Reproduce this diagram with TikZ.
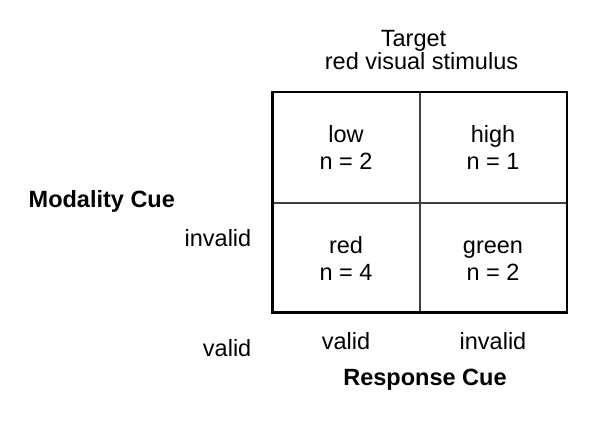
\documentclass[tikz,border=0pt]{standalone}
\usepackage{fontspec}
\setmainfont{Liberation Sans}
\begin{document}
\begin{tikzpicture}[x=1pt,y=-1pt,
  lbl/.style={inner sep=0pt, font=\fontsize{23.5}{23.5}\selectfont},
  boldlbl/.style={lbl, font=\fontsize{23.5}{23.5}\selectfont\bfseries},
  celltext/.style={inner sep=0pt, align=center, font=\fontsize{23.5}{27.5}\selectfont},
  outerbox/.style={draw=black, line width=2.6pt},
  innerline/.style={draw=black!75, line width=1.6pt}]
\useasboundingbox (0,0) rectangle (600,447);
\fill[white] (0,0) rectangle (600,447);
% grid
\coordinate (tl) at (272.5,92);
\coordinate (br) at (567,312.7);
\coordinate (mt) at (419.7,92);
\coordinate (mb) at (419.7,312.7);
\coordinate (ml) at (272.5,202.7);
\coordinate (mr) at (567,202.7);
\draw[innerline] (mt) -- (mb);
\draw[innerline] (ml) -- (mr);
\draw[outerbox] (tl) rectangle (br);
% cell texts
\node[celltext] (low) at (346,150.5) {\strut low\\\strut n = 2};
\node[celltext] (high) at (493,150.5) {\strut high\\\strut n = 1};
\node[celltext] (red) at (346,261.5) {\strut red\\\strut n = 4};
\node[celltext] (green) at (493,261.5) {\strut green\\\strut n = 2};
% top labels
\node[lbl, anchor=base] (target) at (413.5,46) {Target};
\node[lbl, anchor=base] (stim) at (421.5,69.5) {red visual stimulus};
% left labels
\node[boldlbl, anchor=base west] (modcue) at (28.5,207) {Modality Cue};
\node[lbl, anchor=base east] (linv) at (251.5,246) {invalid};
\node[lbl, anchor=base east] (lval) at (251.5,356) {valid};
% bottom labels
\node[lbl, anchor=base] (bval) at (346,349) {valid};
\node[lbl, anchor=base] (binv) at (493,349) {invalid};
\node[boldlbl, anchor=base] (respcue) at (425,385) {Response Cue};
\end{tikzpicture}
\end{document}
